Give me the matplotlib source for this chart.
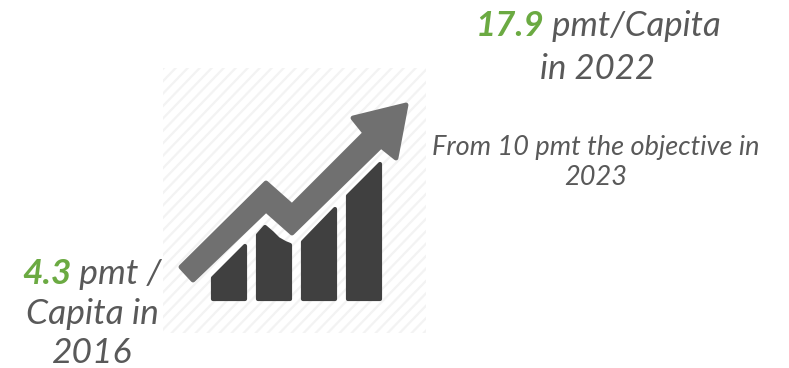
import numpy as np
import matplotlib.pyplot as plt
from matplotlib.patches import Polygon, Rectangle

W, H = 789, 368

start_value = "4.3"
end_value = "17.9"
text_color = "#595959"
green = "#6BAA42"

# text runs: (string, colour, bold) per line
start_lines = [[(start_value, green, True), (" pmt /", text_color, False)],
               [("Capita in", text_color, False)],
               [("2016", text_color, False)]]
start_y = [271, 311, 350]
end_lines = [[(end_value, green, True), (" pmt/Capita", text_color, False)],
             [("in 2022", text_color, False)]]
end_y = [23, 66]
note_lines = [[("From 10 pmt the objective in", text_color, False)],
              [("2023", text_color, False)]]
note_y = [145, 175]

# icon outline in pixel positions
arrow = [(181, 267), (266, 183), (292, 206), (365, 133), (353, 118), (406, 105),
         (396, 158), (381, 146), (292, 233), (266, 210), (193, 280)]
bars = [[(213, 278), (245, 246), (245, 299), (213, 299)],
        [(258, 235), (265, 227), (272, 233), (278, 239), (285, 243), (290, 245),
         (290, 299), (258, 299)],
        [(303, 242), (335, 209), (335, 299), (303, 299)],
        [(348, 196), (380, 164), (380, 299), (348, 299)]]
panel = (163, 68, 263, 265)

ARROW_COLOR = "#707070"
BAR_COLOR = "#404040"
HATCH_COLOR = "#F3F3F3"


def draw_runs(ax, runs, cx, y, size):
    # lay the coloured pieces side by side, centred on cx
    fig = ax.figure
    renderer = fig.canvas.get_renderer()
    items = []
    total = 0
    for s, color, bold in runs:
        t = ax.text(0, y, s.replace(" ", "\u00a0"), color=color, fontsize=size, style="italic",
                    fontweight="bold" if bold else "normal", family="Lato",
                    ha="left", va="center_baseline")
        w = t.get_window_extent(renderer).width
        items.append((t, w))
        total += w
    x = cx - total / 2
    for t, w in items:
        t.set_x(x)
        x += w


fig = plt.figure(figsize=(W / 100, H / 100), dpi=100)
ax = fig.add_axes([0, 0, 1, 1])
ax.set_xlim(0, W)
ax.set_ylim(H, 0)
ax.axis("off")

# striped backing square
px, py, pw, ph = panel
clip = Rectangle((px, py), pw, ph, transform=ax.transData, fc="none", ec="none")
ax.add_patch(clip)
for off in np.arange(px - ph, px + pw + ph, 12):
    ln, = ax.plot([off, off + ph + 20], [py + ph + 10, py - 10 - 10], color=HATCH_COLOR, lw=1.6, zorder=1)
    ln.set_clip_path(clip)

for b in bars:
    ax.add_patch(Polygon(b, closed=True, fc=BAR_COLOR, ec=BAR_COLOR, lw=3, joinstyle="round", zorder=2))
ax.add_patch(Polygon(arrow, closed=True, fc=ARROW_COLOR, ec=ARROW_COLOR, lw=3.5, joinstyle="round", zorder=3))

for runs, y in zip(start_lines, start_y):
    draw_runs(ax, runs, 92, y, 25.5)
for runs, y in zip(end_lines, end_y):
    draw_runs(ax, runs, 598, y, 25)
for runs, y in zip(note_lines, note_y):
    draw_runs(ax, runs, 596, y, 19.5)

fig.savefig("out.png", dpi=100)
